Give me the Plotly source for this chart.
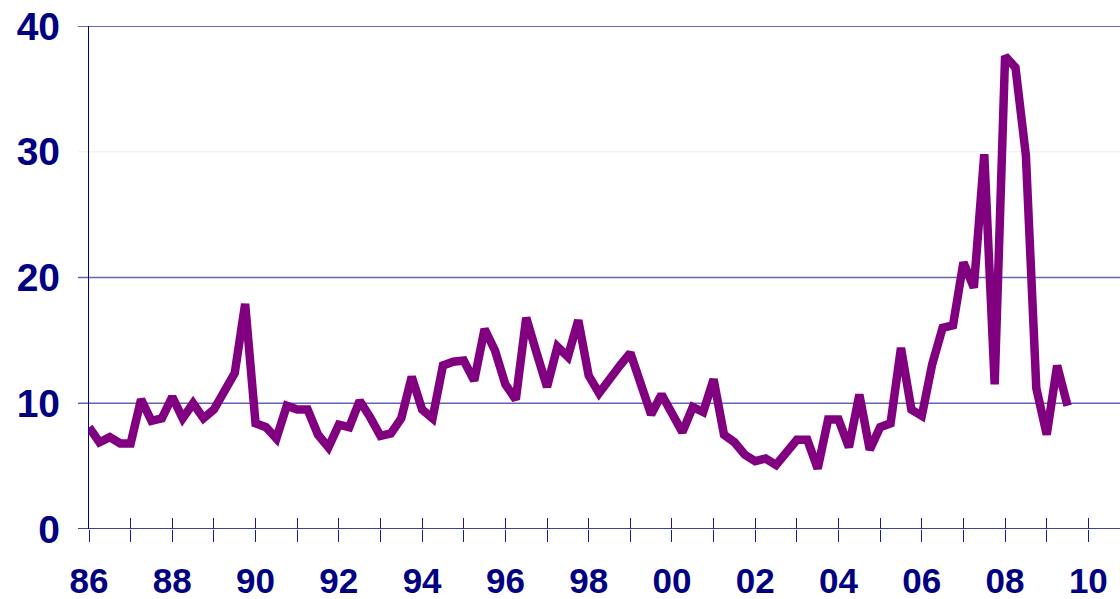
import plotly.graph_objects as go

# Quarterly values, 1986 Q1 .. 2009 Q3
start_year = 1986
values = [
    8.1, 6.9, 7.3, 6.8,      # 1986
    6.8, 10.3, 8.6, 8.8,     # 1987
    10.5, 8.8, 10.0, 8.8,    # 1988
    9.5, 10.9, 12.4, 17.9,   # 1989
    8.4, 8.1, 7.2, 9.8,      # 1990
    9.5, 9.5, 7.5, 6.5,      # 1991
    8.3, 8.1, 10.2, 8.9,     # 1992
    7.4, 7.6, 8.8, 12.1,     # 1993
    9.5, 8.8, 13.0, 13.3,    # 1994
    13.4, 11.8, 15.9, 14.2,  # 1995
    11.5, 10.3, 16.8, 14.0,  # 1996
    11.3, 14.5, 13.7, 16.6,  # 1997
    12.2, 10.8, 12.0, 13.0,  # 1998
    14.0, 11.3, 9.1, 10.7,   # 1999
    9.2, 7.7, 9.7, 9.3,      # 2000
    11.9, 7.5, 6.9, 5.9,     # 2001
    5.4, 5.6, 5.1, 6.0,      # 2002
    7.1, 7.1, 4.8, 8.7,      # 2003
    8.7, 6.5, 10.7, 6.3,     # 2004
    8.1, 8.4, 14.4, 9.5,     # 2005
    9.0, 13.1, 16.0, 16.2,   # 2006
    21.2, 19.2, 29.8, 11.5,  # 2007
    37.6, 36.7, 29.7, 11.2,  # 2008
    7.5, 13.0, 9.8,          # 2009
]
dates = [start_year + i / 4 for i in range(len(values))]

tick_years = list(range(1986, 2011))
tick_labels = [f"{y % 100:02d}" if y % 2 == 0 else "" for y in tick_years]
y_ticks = [0, 10, 20, 30, 40]

NAVY = "#000080"
W, H = 1120, 599
ml, mr, mt, mb = 89, 0, 26, 70
plot_w = W - ml - mr

fig = go.Figure()
fig.add_trace(go.Scatter(
    x=dates, y=values, mode="lines",
    line=dict(color="#800080", width=8.5, shape="linear"),
    showlegend=False, hoverinfo="skip",
))

x_range = [1986, 1986 + plot_w / 41.64]

grid_colors = {0: NAVY, 10: "#6464B4", 20: "#6464B4", 30: "#F2F2F2", 40: "#3A3AA8"}
shapes = []
for v in y_ticks:
    shapes.append(dict(
        type="line", xref="paper", yref="y",
        x0=-11 / plot_w, x1=1, y0=v, y1=v,
        line=dict(color=grid_colors[v], width=1.3),
        layer="below",
    ))

fig.update_layout(
    width=W, height=H,
    margin=dict(l=ml, r=mr, t=mt, b=mb, autoexpand=False),
    paper_bgcolor="white", plot_bgcolor="white",
    shapes=shapes,
    xaxis=dict(
        range=x_range, tickmode="array", tickvals=tick_years, ticktext=tick_labels,
        ticks="outside", ticklen=12, tickwidth=1.3, tickcolor="#1A1A90",
        showline=False, showgrid=False, zeroline=False, automargin=False,
        tickfont=dict(family="Liberation Sans, Arial", size=35, color=NAVY, weight="bold"),
        ticklabelstandoff=9,
    ),
    xaxis2=dict(
        range=x_range, overlaying="x", side="bottom", anchor="y",
        tickmode="array", tickvals=tick_years, ticktext=["" for _ in tick_years],
        ticks="inside", ticklen=11, tickwidth=1.3, tickcolor="#1A1A90",
        showline=False, showgrid=False, zeroline=False, showticklabels=False,
        automargin=False,
    ),
    yaxis=dict(
        range=[0, 40], tickmode="array", tickvals=y_ticks,
        ticks="outside", ticklen=11, tickcolor="rgba(0,0,0,0)",
        showline=True, linecolor=NAVY, linewidth=1.3,
        showgrid=False, zeroline=False, automargin=False,
        tickfont=dict(family="Liberation Sans, Arial", size=39, color=NAVY, weight="bold"),
        ticklabelstandoff=9,
    ),
)
# invisible trace to activate xaxis2
fig.add_trace(go.Scatter(x=[dates[0]], y=[values[0]], xaxis="x2", mode="markers",
                         marker=dict(opacity=0), showlegend=False, hoverinfo="skip"))

fig.write_html(
    "out.html",
    config={"displayModeBar": False},
    post_script="document.body.style.margin='0';document.body.style.overflow='hidden';",
)
